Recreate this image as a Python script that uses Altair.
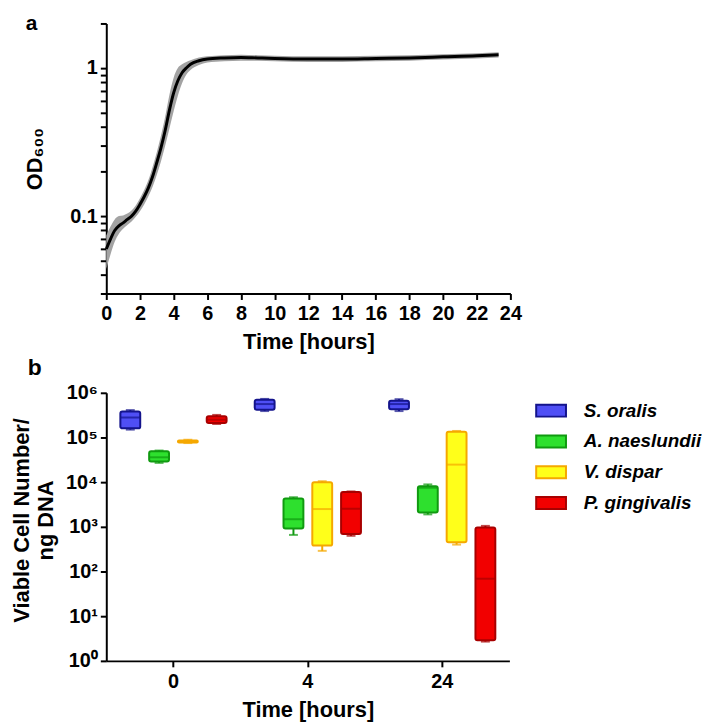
import altair as alt
import pandas as pd

F = "Liberation Sans"

# ---------- panel a: growth curve ----------
t_hours = [0, 0.25, 0.5, 0.75, 1.0, 1.25, 1.5, 1.75, 2.0, 2.25, 2.5, 2.75, 3.0, 3.25, 3.5,
           3.75, 4.0, 4.25, 4.5, 4.75, 5.0, 5.5, 6.0, 7, 8, 9, 10, 12, 14, 16, 18, 20, 22, 23.3]
od_mean = [0.060, 0.070, 0.080, 0.086, 0.090, 0.095, 0.100, 0.108, 0.120, 0.135, 0.155, 0.185,
           0.23, 0.29, 0.38, 0.52, 0.68, 0.82, 0.93, 1.00, 1.06, 1.12, 1.15, 1.17, 1.18, 1.17,
           1.16, 1.15, 1.15, 1.16, 1.17, 1.19, 1.21, 1.23]
od_lo = [0.044, 0.055, 0.067, 0.076, 0.082, 0.087, 0.092, 0.099, 0.108, 0.120, 0.136, 0.158,
         0.19, 0.235, 0.30, 0.39, 0.51, 0.65, 0.79, 0.90, 0.97, 1.05, 1.09, 1.11, 1.12, 1.12,
         1.11, 1.10, 1.10, 1.11, 1.12, 1.14, 1.16, 1.18]
od_hi = [0.074, 0.085, 0.095, 0.100, 0.101, 0.104, 0.109, 0.118, 0.132, 0.150, 0.175, 0.215,
         0.27, 0.35, 0.47, 0.66, 0.86, 1.00, 1.06, 1.10, 1.13, 1.18, 1.20, 1.22, 1.23, 1.22,
         1.21, 1.20, 1.20, 1.21, 1.22, 1.24, 1.26, 1.28]

x_ticks_a = list(range(0, 25, 2))
y_ticks_a = [0.03, 0.04, 0.05, 0.06, 0.07, 0.08, 0.09, 0.1, 0.2, 0.3, 0.4, 0.5, 0.6, 0.7,
             0.8, 0.9, 1, 2]

# ---------- panel b: viable cells ----------
times = ["0", "4", "24"]
species = ["S. oralis", "A. naeslundii", "V. dispar", "P. gingivalis"]
fill_colors = ["#4f4ff5", "#2ee02e", "#ffff1a", "#f20000"]
stroke_colors = ["#14148c", "#109a10", "#f5a800", "#a80000"]

box_time = ["0"] * 4 + ["4"] * 4 + ["24"] * 4
box_species = species * 3
v_min = [1.5e5, 2.7e4, 7.5e4, 2.0e5,   3.9e5, 660, 290, 630,    3.9e5, 1900, 400, 2.7]
v_q1 = [1.6e5, 2.9e4, 7.7e4, 2.1e5,    4.2e5, 920, 380, 690,    4.3e5, 2100, 450, 2.9]
v_med = [2.8e5, 3.6e4, 8.0e4, 2.5e5,   5.6e5, 1480, 2500, 2550, 5.6e5, 7500, 2.47e4, 69]
v_q3 = [3.8e5, 4.9e4, 8.6e4, 3.0e5,    7.0e5, 4300, 1.0e4, 6000, 6.6e5, 8100, 1.35e5, 970]
v_max = [4.1e5, 5.1e4, 8.9e4, 3.2e5,   7.3e5, 4600, 1.05e4, 6200, 7.2e5, 8900, 1.4e5, 1050]
y_ticks_b = [1, 10, 100, 1000, 1e4, 1e5, 1e6]

df_a = pd.DataFrame({"t": t_hours, "mean": od_mean, "lo": od_lo, "hi": od_hi})
df_b = pd.DataFrame({"time": box_time, "species": box_species, "vmin": v_min, "q1": v_q1,
                     "med": v_med, "q3": v_q3, "vmax": v_max})

axis_style = dict(domainColor="black", domainWidth=2, tickColor="black", tickWidth=2,
                  tickSize=6, labelFont=F, labelFontSize=20, labelFontWeight="bold",
                  labelColor="black", titleFont=F, titleFontSize=22, titleFontWeight="bold",
                  titleColor="black", grid=False, labelOverlap=False)

x_axis_a = alt.Axis(values=x_ticks_a, title="Time [hours]", labelPadding=4, titlePadding=8,
                    labelFlush=False, **axis_style)
x_scale_a = alt.Scale(domain=[0, 24], nice=False)
y_scale_a = alt.Scale(type="log", domain=[0.03, 2], nice=False)
y_axis_a = alt.Axis(values=y_ticks_a, title="OD₆₀₀", labelPadding=3,
                    labelExpr="datum.value == 1 ? '1' : (datum.value == 0.1 ? '0.1' : '')",
                    titleX=-60, titleAngle=270, titleBaseline="bottom", **axis_style)

band = alt.Chart(df_a).mark_area(color="#a3a3a3", interpolate="monotone").encode(
    x=alt.X("t:Q", scale=x_scale_a, axis=x_axis_a),
    y=alt.Y("lo:Q", scale=y_scale_a, axis=y_axis_a),
    y2="hi:Q",
)
line = alt.Chart(df_a).mark_line(color="black", strokeWidth=3, interpolate="monotone").encode(
    x=alt.X("t:Q", scale=x_scale_a, axis=x_axis_a),
    y=alt.Y("mean:Q", scale=y_scale_a, axis=y_axis_a),
)
lab_a = alt.Chart(pd.DataFrame({"lbl": ["a"]})).mark_text(
    font=F, fontSize=21, fontWeight="bold", align="left", baseline="alphabetic", color="black"
).encode(text="lbl:N", x=alt.value(-81), y=alt.value(7))

panel_a = alt.layer(band, line, lab_a).properties(width=407, height=272)

x_b = alt.X("time:N", sort=times, scale=alt.Scale(paddingInner=0.143, paddingOuter=0.0715),
            axis=alt.Axis(title="Time [hours]", labelAngle=0, labelPadding=5, titlePadding=8,
                          **axis_style))
xo_b = alt.XOffset("species:N", sort=species, scale=alt.Scale(paddingInner=0, paddingOuter=0))
y_scale_b = alt.Scale(type="log", domain=[1, 1e6], nice=False)

sup_expr = ("'10' + ['\u2070','\u00b9','\u00b2','\u00b3','\u2074','\u2075','\u2076']"
            "[round(log(datum.value)/LN10)]")

legend_b = alt.Legend(title=None, orient="none", legendX=432, legendY=374,
                      symbolType="M-1,-0.4H1V0.4H-1Z", symbolSize=900, symbolStrokeWidth=2,
                      labelFont=F, labelFontSize=19, labelFontWeight="bold",
                      labelFontStyle="italic", labelColor="black", labelOffset=17,
                      rowPadding=5, padding=0)

boxes = alt.Chart(df_b).mark_bar(size=20, strokeWidth=2, cornerRadius=2).encode(
    x=x_b, xOffset=xo_b,
    y=alt.Y("q1:Q", scale=y_scale_b,
            axis=alt.Axis(values=y_ticks_b, labelExpr=sup_expr, labelPadding=3,
                          title=["Viable Cell Number/", "ng DNA"], titleX=-73, titleY=128,
                          titleAngle=270, titleBaseline="bottom", titleLineHeight=24,
                          **axis_style)),
    y2="q3:Q",
    fill=alt.Fill("species:N", sort=species,
                  scale=alt.Scale(domain=species, range=fill_colors), legend=legend_b),
    stroke=alt.Stroke("species:N", sort=species,
                      scale=alt.Scale(domain=species, range=stroke_colors), legend=legend_b),
)
# colour scale for whiskers / medians (domain listed in reverse so its disabled legend
# is not merged with the fill/stroke legend)
color_enc = alt.Color("species:N",
                      scale=alt.Scale(domain=species[::-1], range=stroke_colors[::-1]),
                      legend=None)

whisk_lo = alt.Chart(df_b).mark_rule(strokeWidth=2).encode(
    x=x_b, xOffset=xo_b, y="vmin:Q", y2="q1:Q", color=color_enc)
whisk_hi = alt.Chart(df_b).mark_rule(strokeWidth=2).encode(
    x=x_b, xOffset=xo_b, y="q3:Q", y2="vmax:Q", color=color_enc)
cap_lo = alt.Chart(df_b).mark_tick(size=9, thickness=2).encode(
    x=x_b, xOffset=xo_b, y="vmin:Q", color=color_enc)
cap_hi = alt.Chart(df_b).mark_tick(size=9, thickness=2).encode(
    x=x_b, xOffset=xo_b, y="vmax:Q", color=color_enc)
median = alt.Chart(df_b).mark_tick(size=20, thickness=2).encode(
    x=x_b, xOffset=xo_b, y="med:Q", color=color_enc)
lab_b = alt.Chart(pd.DataFrame({"lbl": ["b"]})).mark_text(
    font=F, fontSize=23, fontWeight="bold", align="left", baseline="alphabetic", color="black"
).encode(text="lbl:N", x=alt.value(-79), y=alt.value(-18))

panel_b = alt.layer(whisk_lo, whisk_hi, cap_lo, cap_hi, boxes, median, lab_b).properties(
    width=406, height=270)

chart = alt.vconcat(panel_a, panel_b, spacing=5).properties(
    padding={"left": 3, "top": 3, "right": 0, "bottom": 0}
).configure_view(stroke=None)

chart.save("out.html", embed_options={"renderer": "svg", "actions": False})
